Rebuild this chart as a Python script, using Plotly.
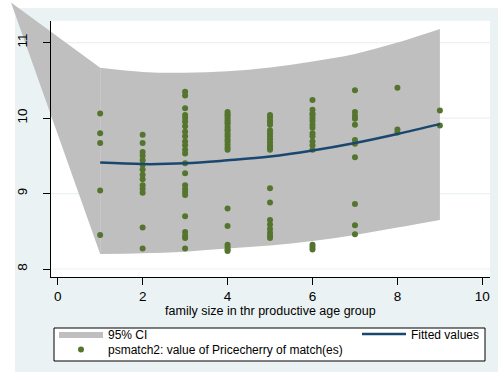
import plotly.graph_objects as go

# ---- data -------------------------------------------------------------
# family size (x) and psmatch2 matched Pricecherry value (y)
fam_1 = [10.06, 9.80, 9.67, 9.04, 8.45]
fam_2 = [9.78, 9.67, 9.55, 9.50, 9.44, 9.38, 9.32, 9.25, 9.19, 9.11, 9.06, 9.01, 8.55, 8.27]
fam_3 = [10.35, 10.30, 10.13, 10.04, 10.00, 9.95, 9.89, 9.82, 9.76, 9.69, 9.64, 9.58,
         9.53, 9.40, 9.27, 9.11, 9.06, 9.02, 8.98, 8.70, 8.49, 8.44, 8.41, 8.27]
fam_4 = [10.08, 10.05, 10.03, 10.00, 9.97, 9.94, 9.92, 9.88, 9.85, 9.83, 9.79, 9.76,
         9.72, 9.69, 9.65, 9.61, 9.58, 8.80, 8.57, 8.32, 8.29, 8.26, 8.24]
fam_5 = [10.04, 10.01, 9.97, 9.94, 9.91, 9.84, 9.80, 9.76, 9.72, 9.68, 9.64, 9.61, 9.58,
         9.07, 8.88, 8.65, 8.59, 8.53, 8.48, 8.44, 8.41]
fam_6 = [10.24, 10.11, 10.06, 10.04, 10.00, 9.96, 9.91, 9.87, 9.80, 9.76, 9.69, 9.64,
         9.58, 8.32, 8.29, 8.26]
fam_7 = [10.37, 10.08, 10.03, 9.99, 9.91, 9.71, 9.66, 9.48, 8.86, 8.58, 8.46]
fam_8 = [10.40, 9.85, 9.81]
fam_9 = [10.10, 9.90]
groups = [fam_1, fam_2, fam_3, fam_4, fam_5, fam_6, fam_7, fam_8, fam_9]

# quadratic fit with 95% confidence band
fit_x = [1, 2, 3, 4, 5, 6, 7, 8, 9]
fit_y = [9.41, 9.39, 9.40, 9.44, 9.49, 9.57, 9.67, 9.79, 9.92]
ci_lower = [8.20, 8.21, 8.23, 8.27, 8.31, 8.37, 8.45, 8.55, 8.65]
ci_upper = [10.665, 10.61, 10.60, 10.62, 10.67, 10.75, 10.85, 11.00, 11.18]
# left tail of the band where the upper bound runs off the graph
ci_tail_x = [-1.10]
ci_tail_y = [11.53]

x_ticks = [0, 2, 4, 6, 8, 10]
y_ticks = [8, 9, 10, 11]

x_title = "family size in thr productive age group"
ci_name = "95% CI"
fit_name = "Fitted values"
pts_name = "psmatch2: value of Pricecherry of match(es)"

# ---- style ------------------------------------------------------------
W, H = 502, 372
NAVY = "#1A476F"
GREEN = "#55752F"
CI_GREY = "#BFBFBF"
BLUISH = "#EAF2F3"
FONT = "Liberation Sans, Arial, sans-serif"

# plot region in pixels and its axis ranges
px_left, px_right, px_top, px_bottom = 50.7, 490.0, 20.7, 277.0
x_range = [-0.165, 10.18]
y_range = [7.894, 11.29]

dom_x = [px_left / W, px_right / W]
dom_y = [1 - px_bottom / H, 1 - px_top / H]

# the full-page axes share the same data scale as the plot region
def extend(rng, dom):
    span = (rng[1] - rng[0]) / (dom[1] - dom[0])
    lo = rng[0] - dom[0] * span
    return [lo, lo + span]

full_x = extend(x_range, dom_x)
full_y = extend(y_range, dom_y)

pts_x, pts_y = [], []
for fx, vals in zip(fit_x, groups):
    pts_x += [fx] * len(vals)
    pts_y += vals

fig = go.Figure()

# confidence band on the full-page axes (allowed to spill outside the plot region)
fig.add_trace(go.Scatter(
    x=ci_tail_x + [fit_x[0], fit_x[0]], y=ci_tail_y + [ci_lower[0], ci_upper[0]],
    fill="toself", fillcolor=CI_GREY, mode="lines", line=dict(width=0),
    showlegend=False, hoverinfo="skip", xaxis="x", yaxis="y"))
fig.add_trace(go.Scatter(
    x=fit_x, y=ci_lower, mode="lines", line=dict(width=0, shape="spline", color=CI_GREY),
    showlegend=False, hoverinfo="skip", xaxis="x", yaxis="y"))
fig.add_trace(go.Scatter(
    x=fit_x, y=ci_upper, mode="lines", fill="tonexty", fillcolor=CI_GREY,
    line=dict(width=0, shape="spline", color=CI_GREY), name=ci_name,
    legend="legend", xaxis="x", yaxis="y"))

# scatter and fitted line on the plot-region axes
fig.add_trace(go.Scatter(
    x=pts_x, y=pts_y, mode="markers", name=pts_name,
    marker=dict(color=GREEN, size=6, line=dict(width=0)),
    legend="legend3", xaxis="x2", yaxis="y2"))
fig.add_trace(go.Scatter(
    x=fit_x, y=fit_y, mode="lines", name=fit_name,
    line=dict(color=NAVY, width=2.5, shape="spline"),
    legend="legend2", xaxis="x2", yaxis="y2"))

shapes = [
    # graph region and plot region backgrounds
    dict(type="rect", xref="paper", yref="paper", x0=15 / W, x1=498 / W, y0=0, y1=1 - 8 / H,
         fillcolor=BLUISH, line=dict(width=0), layer="below"),
    dict(type="rect", xref="paper", yref="paper", x0=dom_x[0], x1=dom_x[1], y0=dom_y[0], y1=dom_y[1],
         fillcolor="white", line=dict(width=0), layer="below"),
    # legend frame
    dict(type="rect", xref="paper", yref="paper", x0=54 / W, x1=485 / W,
         y0=1 - 361 / H, y1=1 - 328 / H, fillcolor="white",
         line=dict(color="black", width=1), layer="below"),
]
# horizontal grid lines at the y ticks
for v in y_ticks:
    shapes.append(dict(type="line", xref="paper", yref="y2", x0=dom_x[0], x1=dom_x[1],
                       y0=v, y1=v, line=dict(color=BLUISH, width=1.2), layer="below"))

leg_common = dict(bgcolor="rgba(0,0,0,0)", borderwidth=0, font=dict(size=12, color="black", family=FONT),
                  xanchor="left", yanchor="middle", tracegroupgap=0, itemwidth=44)

fig.update_layout(
    width=W, height=H,
    margin=dict(l=0, r=0, t=0, b=0),
    paper_bgcolor="white", plot_bgcolor="rgba(0,0,0,0)",
    font=dict(family=FONT, color="black"),
    shapes=shapes,
    xaxis=dict(domain=[0, 1], range=full_x, visible=False, anchor="y", fixedrange=True),
    yaxis=dict(domain=[0, 1], range=full_y, visible=False, anchor="x", fixedrange=True),
    xaxis2=dict(domain=dom_x, range=x_range, anchor="y2", tickvals=x_ticks,
                showline=True, linecolor="black", linewidth=1, showgrid=False, zeroline=False,
                ticks="outside", ticklen=7, tickcolor="black", tickwidth=1,
                tickfont=dict(size=13.5), title=dict(text=x_title, font=dict(size=12.5), standoff=1)),
    yaxis2=dict(domain=dom_y, range=y_range, anchor="x2", tickvals=y_ticks, tickangle=-90,
                showline=True, linecolor="black", linewidth=1, showgrid=False, zeroline=False,
                ticks="outside", ticklen=7, tickcolor="black", tickwidth=1,
                tickfont=dict(size=13.5), ticklabelstandoff=10),
    legend=dict(x=54 / W, y=1 - 334 / H, **leg_common),
    legend2=dict(x=357 / W, y=1 - 334 / H, **leg_common),
    legend3=dict(x=54 / W, y=1 - 349.5 / H, **leg_common),
)

fig.write_html("out.html")
